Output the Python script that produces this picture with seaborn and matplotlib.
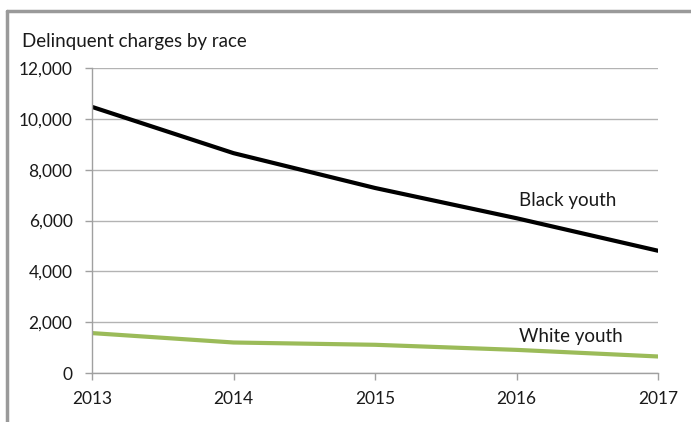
import matplotlib
matplotlib.use("Agg")
import matplotlib.pyplot as plt
from matplotlib.lines import Line2D
import seaborn as sns
import pandas as pd

years = [2013, 2014, 2015, 2016, 2017]
black_youth = [10470, 8650, 7280, 6090, 4810]
white_youth = [1570, 1200, 1110, 910, 650]
y_ticks = [0, 2000, 4000, 6000, 8000, 10000, 12000]

df = pd.DataFrame({
    "year": years * 2,
    "charges": black_youth + white_youth,
    "group": ["Black youth"] * len(years) + ["White youth"] * len(years),
})

sns.set_theme(style="white")
plt.rcParams["font.family"] = ["Lato", "DejaVu Sans"]

W, H = 691, 422
fig = plt.figure(figsize=(W / 100, H / 100), dpi=100)
ax = fig.add_axes([92 / W, 1 - 373 / H, (658 - 92) / W, (373 - 68) / H])

sns.lineplot(data=df, x="year", y="charges", hue="group",
             palette={"Black youth": "#000000", "White youth": "#9BBB59"},
             linewidth=3, legend=False, ax=ax)

ax.set_xlim(years[0], years[-1])
ax.set_ylim(0, 12000)
ax.set_xticks(years)
ax.set_xticklabels([str(y) for y in years])
ax.set_yticks(y_ticks)
ax.set_yticklabels([f"{v:,}" for v in y_ticks])
ax.set_xlabel("")
ax.set_ylabel("")

grid_c = "#b3b3b3"
axis_c = "#a0a0a0"
ax.yaxis.grid(True, color=grid_c, linewidth=1)
ax.xaxis.grid(False)
for s in ["top", "right"]:
    ax.spines[s].set_visible(False)
for s in ["left", "bottom"]:
    ax.spines[s].set_color(axis_c)
    ax.spines[s].set_linewidth(1)
ax.tick_params(axis="both", which="major", length=5, width=1, color=axis_c,
               labelsize=12.5, labelcolor="#1a1a1a", direction="out")
ax.tick_params(axis="x", bottom=True, pad=8)
ax.tick_params(axis="y", left=True, pad=9)
ax.set_axisbelow(True)

fig.text(22 / W, 1 - 42 / H, "Delinquent charges by race", fontsize=13.5,
         color="#1a1a1a", ha="left", va="center")

ax.text(2016.02, 6800, "Black youth", fontsize=13.5, color="#1a1a1a",
        ha="left", va="center")
ax.text(2016.02, 1420, "White youth", fontsize=13.5, color="#1a1a1a",
        ha="left", va="center")

# outer frame
frame_c = "#9a9a9a"
fig.add_artist(Line2D([7 / W, 1], [1 - 11 / H, 1 - 11 / H], transform=fig.transFigure,
                      color=frame_c, linewidth=2.5))
fig.add_artist(Line2D([7 / W, 7 / W], [0, 1 - 11 / H], transform=fig.transFigure,
                      color=frame_c, linewidth=2.5))

fig.savefig("out.png", dpi=100, facecolor="white")
